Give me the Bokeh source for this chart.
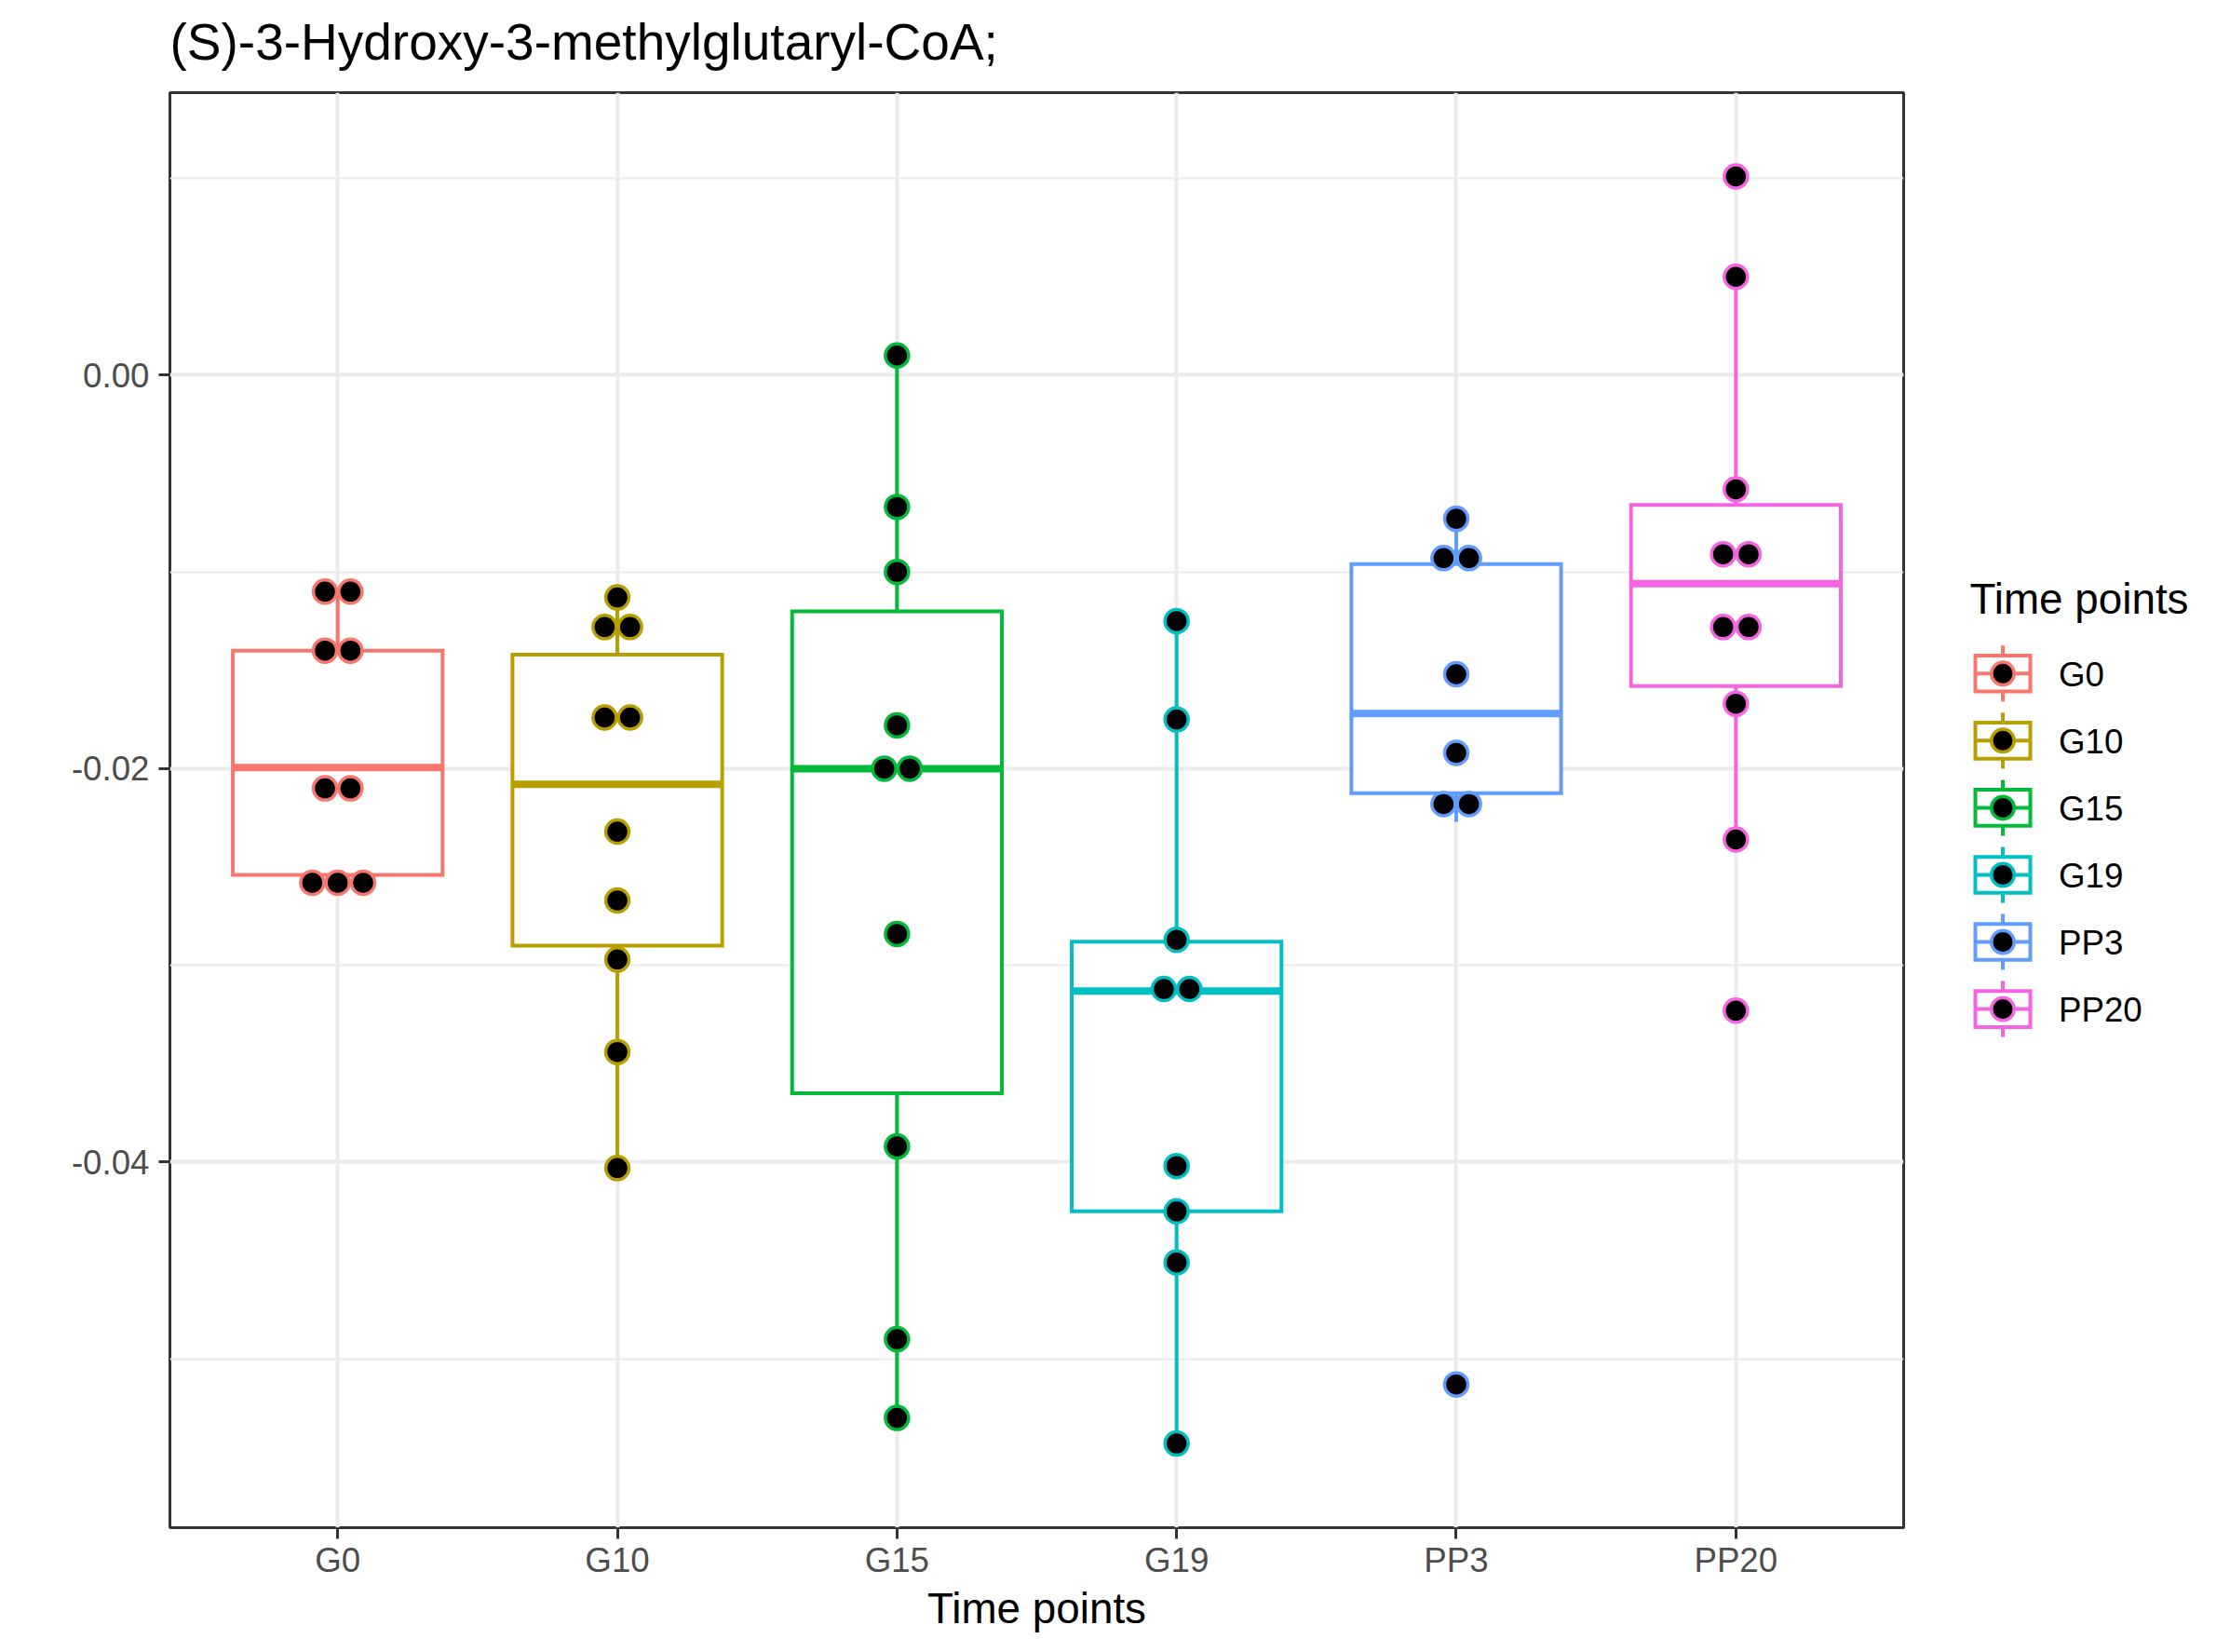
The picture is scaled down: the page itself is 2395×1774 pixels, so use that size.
from collections import Counter

from bokeh.plotting import figure
from bokeh.models import Range1d, FixedTicker, PrintfTickFormatter, Title
from bokeh.layouts import row
from bokeh.embed import file_html
from bokeh.resources import INLINE
from bokeh.core.properties import value

# ---------------- data ----------------
title_text = "(S)-3-Hydroxy-3-methylglutaryl-CoA;"
x_label = "Time points"
legend_title = "Time points"

groups = ["G0", "G10", "G15", "G19", "PP3", "PP20"]
colors = ["#F8766D", "#B79F00", "#00BA38", "#00BFC4", "#619CFF", "#F564E3"]

g0_values = [-0.0110, -0.0110, -0.0140, -0.0140, -0.0210, -0.0210, -0.0258, -0.0258, -0.0258]
g10_values = [-0.0113, -0.0128, -0.0128, -0.0174, -0.0174, -0.0232, -0.0267, -0.0297, -0.0344, -0.0403]
g15_values = [0.0010, -0.0067, -0.0100, -0.0178, -0.0200, -0.0200, -0.0284, -0.0392, -0.0490, -0.0530]
g19_values = [-0.0125, -0.0175, -0.0287, -0.0312, -0.0312, -0.0402, -0.0425, -0.0451, -0.0543]
pp3_values = [-0.0073, -0.0093, -0.0093, -0.0152, -0.0192, -0.0218, -0.0218, -0.0513]
pp20_values = [0.0101, 0.0050, -0.0058, -0.0091, -0.0091, -0.0128, -0.0128, -0.0167, -0.0236, -0.0323]

# box statistics per group
lower_whisker = [-0.0254, -0.0403, -0.0530, -0.0543, -0.0227, -0.0236]
q1 = [-0.0254, -0.0290, -0.0365, -0.0425, -0.02125, -0.0158]
medians = [-0.01995, -0.0208, -0.0200, -0.0313, -0.0172, -0.0106]
q3 = [-0.0140, -0.0142, -0.0120, -0.0288, -0.0096, -0.0066]
upper_whisker = [-0.0110, -0.0113, 0.0010, -0.0125, -0.0073, 0.0050]

y_ticks = [-0.04, -0.02, 0.0]
y_minor = [-0.05, -0.03, -0.01, 0.01]
y_limits = (-0.05858, 0.01436)

all_values = [g0_values, g10_values, g15_values, g19_values, pp3_values, pp20_values]

# ---------------- styling ----------------
FONT = "Liberation Sans"
H = 1766
W_MAIN = 2048
W_LEG = 331
FRAME_TOP = 99
FRAME_BOTTOM = 1640
BOX_HALF = 0.375
DOT_STEP = 0.091

xs = list(range(1, len(groups) + 1))

p = figure(width=W_MAIN, height=H,
           x_range=Range1d(0.4, 6.6), y_range=Range1d(*y_limits),
           output_backend="svg", toolbar_location=None,
           min_border_left=182, min_border_right=4,
           min_border_top=FRAME_TOP, min_border_bottom=H - FRAME_BOTTOM)
p.background_fill_color = "white"
p.border_fill_color = "white"
p.outline_line_color = "#333333"
p.outline_line_width = 3

# an empty spacer just above the frame, then the real title above it
p.add_layout(Title(text=" ", text_font_size="1px", standoff=16), "above")
p.add_layout(Title(text=title_text, text_font=FONT, text_font_size="55px",
                   text_font_style="normal", text_color="black",
                   align="left", standoff=10), "above")

# grids
p.xgrid.ticker = FixedTicker(ticks=xs)
p.xgrid.grid_line_color = "#EBEBEB"
p.xgrid.grid_line_width = 3.8
p.ygrid.ticker = FixedTicker(ticks=y_ticks, minor_ticks=y_minor)
p.ygrid.grid_line_color = "#EBEBEB"
p.ygrid.grid_line_width = 3.8
p.ygrid.minor_grid_line_color = "#EBEBEB"
p.ygrid.minor_grid_line_width = 1.9

# axes
p.xaxis.ticker = FixedTicker(ticks=xs)
p.xaxis.major_label_overrides = {x: g for x, g in zip(xs, groups)}
p.yaxis.ticker = FixedTicker(ticks=y_ticks, minor_ticks=y_minor)
p.yaxis.formatter = PrintfTickFormatter(format="%.2f")
for ax in (p.xaxis, p.yaxis):
    ax.axis_line_color = None
    ax.major_tick_line_color = "#333333"
    ax.major_tick_line_width = 3
    ax.major_tick_out = 12
    ax.major_tick_in = 0
    ax.minor_tick_line_color = None
    ax.major_label_text_font = FONT
    ax.major_label_text_font_size = "36.7px"
    ax.major_label_text_color = "#4D4D4D"
p.xaxis.major_label_standoff = 2
p.yaxis.major_label_standoff = 10
p.xaxis.axis_label = x_label
p.xaxis.axis_label_text_font = FONT
p.xaxis.axis_label_text_font_size = "45.8px"
p.xaxis.axis_label_text_font_style = "normal"
p.xaxis.axis_label_text_color = "black"
p.xaxis.axis_label_standoff = 3

# whiskers
p.segment(x0=xs, y0=q3, x1=xs, y1=upper_whisker, line_color=colors, line_width=4)
p.segment(x0=xs, y0=q1, x1=xs, y1=lower_whisker, line_color=colors, line_width=4)
# boxes
p.quad(left=[x - BOX_HALF for x in xs], right=[x + BOX_HALF for x in xs],
       bottom=q1, top=q3, fill_color="white", line_color=colors,
       line_width=4, line_join="miter")
# medians
p.segment(x0=[x - BOX_HALF for x in xs], x1=[x + BOX_HALF for x in xs],
          y0=medians, y1=medians, line_color=colors, line_width=8)

# dots (centred dot-plot stacks)
dot_x, dot_y, dot_c = [], [], []
for gx, vals, col in zip(xs, all_values, colors):
    counts = Counter(vals)
    for v, n in counts.items():
        for k in range(n):
            dot_x.append(gx + (k - (n - 1) / 2) * DOT_STEP)
            dot_y.append(v)
            dot_c.append(col)
p.scatter(x=dot_x, y=dot_y, marker="circle", size=25, fill_color="black",
          line_color=dot_c, line_width=3.5)

# ---------------- legend panel (frame aligned with the main frame) ----------------
lg = figure(width=W_LEG, height=H, x_range=Range1d(0, W_LEG),
            y_range=Range1d(FRAME_BOTTOM, FRAME_TOP),
            output_backend="svg", toolbar_location=None,
            min_border_left=0, min_border_right=0,
            min_border_top=FRAME_TOP, min_border_bottom=H - FRAME_BOTTOM,
            x_axis_location=None, y_axis_location=None)
lg.outline_line_color = None
lg.background_fill_color = "white"
lg.border_fill_color = "white"
lg.xgrid.grid_line_color = None
lg.ygrid.grid_line_color = None

key_x = 102.5
key_y = [722.8 + i * 72.06 for i in range(len(groups))]
n = len(groups)
lg.segment(x0=[key_x] * n, x1=[key_x] * n, y0=[y - 30 for y in key_y], y1=[y + 30 for y in key_y],
           line_color=colors, line_width=4)
lg.quad(left=[key_x - 29.5] * n, right=[key_x + 29.5] * n,
        top=[y - 19.3 for y in key_y], bottom=[y + 19.3 for y in key_y],
        fill_color="white", line_color=colors, line_width=4, line_join="miter")
lg.segment(x0=[key_x - 29.5] * n, x1=[key_x + 29.5] * n, y0=key_y, y1=key_y,
           line_color=colors, line_width=4)
lg.scatter(x=[key_x] * n, y=key_y, marker="circle", size=24.5, fill_color="black",
           line_color=colors, line_width=3.5)
lg.text(x=[162.5] * n, y=[y + 1 for y in key_y], text=groups,
        text_font=value(FONT), text_font_size=value("36.7px"), text_color="black",
        text_baseline="middle", text_align="left")
lg.text(x=[67], y=[643], text=[legend_title],
        text_font=value(FONT), text_font_size=value("45.8px"), text_color="black",
        text_baseline="middle", text_align="left")

layout = row(p, lg)
open("out.html", "w").write(file_html(layout, INLINE))
